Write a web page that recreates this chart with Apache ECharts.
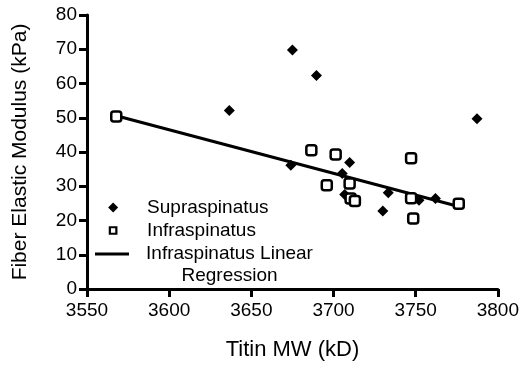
<!DOCTYPE html>
<html>
<head>
<meta charset="utf-8">
<script src="https://cdn.jsdelivr.net/npm/echarts@6/dist/echarts.min.js"></script>
<style>
  html, body { margin: 0; padding: 0; background: #fff; }
  #chart { width: 522px; height: 366px; }
</style>
</head>
<body>
<div id="chart"></div>
<script>
// titin MW (kD) vs fiber elastic modulus (kPa)
var supraMW  = [3675, 3689.6, 3636.6, 3674, 3705.3, 3709.8, 3706.8, 3733.3, 3730, 3752, 3762, 3787.3];
var supraKPa = [69.8, 62.3, 52.1, 36.1, 33.7, 36.9, 27.6, 28.1, 22.8, 25.9, 26.4, 49.7];
var infraMW  = [3567.8, 3686.5, 3701.3, 3747.2, 3695.9, 3709.8, 3710.4, 3713, 3747.2, 3748.5, 3776.2];
var infraKPa = [50.4, 40.5, 39.3, 38.2, 30.3, 30.8, 26.4, 25.7, 26.5, 20.6, 24.9];
var regMW  = [3567.8, 3776.2];
var regKPa = [50.6, 24.1];

function pairs(xs, ys){
  var out = [];
  for(var i=0;i<xs.length;i++){
    out.push([xs[i], ys[i]]);
  }
  return out;
}

var font = 'Liberation Sans, Arial, sans-serif';
var regName = 'Infraspinatus Linear Regression';

var myChart = echarts.init(document.getElementById('chart'));
var option = {
  animation: false,
  grid: {
    left: 87,
    right: 23,
    top: 15,
    bottom: 76,
    containLabel: false
  },
  xAxis: {
    type: 'value',
    min: 3550,
    max: 3800,
    interval: 50,
    name: 'Titin MW (kD)',
    nameLocation: 'middle',
    nameGap: 50,
    nameTextStyle: {color: '#000', fontSize: 22, fontFamily: font},
    axisLine: {show: true, lineStyle: {color: '#000', width: 3}},
    axisTick: {show: true, length: 8, lineStyle: {color: '#000', width: 3}},
    axisLabel: {color: '#000', fontSize: 19, fontFamily: font, margin: 12,
      formatter: function(v){ return String(v); }},
    splitLine: {show: false}
  },
  yAxis: {
    type: 'value',
    min: 0,
    max: 80,
    interval: 10,
    name: 'Fiber Elastic Modulus (kPa)',
    nameLocation: 'middle',
    nameGap: 56,
    nameTextStyle: {color: '#000', fontSize: 21, fontFamily: font},
    axisLine: {show: true, lineStyle: {color: '#000', width: 3}},
    axisTick: {show: true, length: 8, lineStyle: {color: '#000', width: 3}},
    axisLabel: {color: '#000', fontSize: 19, fontFamily: font, margin: 10},
    splitLine: {show: false}
  },
  legend: [
    {
      orient: 'vertical',
      left: 95,
      top: 197,
      padding: 0,
      itemGap: 2,
      itemWidth: 34,
      itemHeight: 10,
      textStyle: {color: '#000', fontSize: 19, lineHeight: 21, fontFamily: font, padding: [0, 0, 0, 12]},
      formatter: function(name){
        return name;
      },
      data: [
        {name: 'Supraspinatus', icon: 'path://M0,0M34,10M17,0L22,5L17,10L12,5Z'},
        {name: 'Infraspinatus', icon: 'path://M0,0M34,10M13.75,1.75H20.25V8.25H13.75Z', itemStyle: {borderWidth: 2.2}}
      ]
    },
    {
      orient: 'vertical',
      left: 95,
      top: 221,
      padding: 0,
      itemWidth: 34,
      itemHeight: 10,
      textStyle: {color: '#000', fontSize: 19, lineHeight: 21, fontFamily: font, padding: [22, 0, 0, 12],
        rich: {c: {width: 167, align: 'center', fontSize: 19, lineHeight: 22, fontFamily: font, color: '#000'}}},
      formatter: function(name){
        return '{c|Infraspinatus Linear}\n{c|Regression}';
      },
      data: [
        {name: regName, icon: 'path://M0,0H34V3H0Z', itemStyle: {color: '#000'}}
      ]
    }
  ],
  series: [
    {
      name: 'Supraspinatus',
      type: 'scatter',
      symbol: 'diamond',
      symbolSize: 11,
      itemStyle: {color: '#000', opacity: 1},
      data: pairs(supraMW, supraKPa),
      z: 3
    },
    {
      name: 'Infraspinatus',
      type: 'scatter',
      symbol: 'roundRect',
      symbolSize: 10,
      itemStyle: {color: '#fff', borderColor: '#000', borderWidth: 2.5, opacity: 1},
      data: pairs(infraMW, infraKPa),
      z: 4
    },
    {
      name: regName,
      type: 'line',
      symbol: 'none',
      lineStyle: {color: '#000', width: 3},
      itemStyle: {color: '#000'},
      data: pairs(regMW, regKPa),
      z: 2
    }
  ]
};
myChart.setOption(option);
</script>
</body>
</html>
